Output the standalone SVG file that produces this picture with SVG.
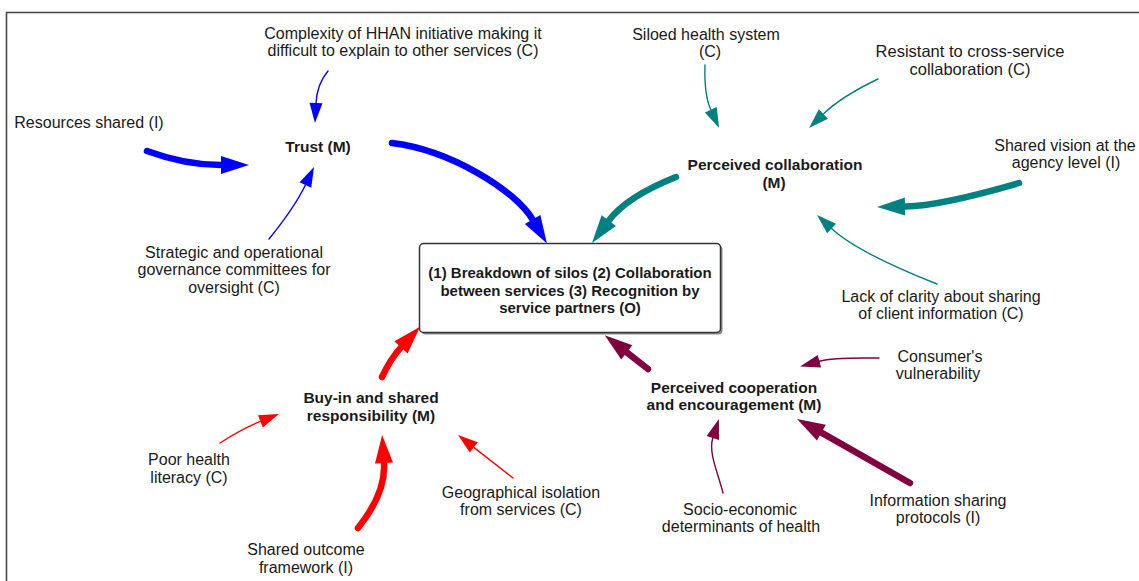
<svg xmlns="http://www.w3.org/2000/svg" width="1139" height="581" viewBox="0 0 1139 581">
<style>
text{font-family:"Liberation Sans",Arial,sans-serif;font-size:16px;fill:#1a1a1a;text-anchor:middle}
.b{font-weight:bold;font-size:15.5px}
.o{font-weight:bold;font-size:15px}
.thick{fill:none;stroke-width:6.5;stroke-linecap:round}
.thin{fill:none;stroke-width:1.4;stroke-linecap:round}
.blue{stroke:#0000ff}.teal{stroke:#008080}.red{stroke:#ff0000}.mar{stroke:#800040}
</style>
<defs>
<marker id="tkB" markerUnits="userSpaceOnUse" markerWidth="30" markerHeight="20" refX="0" refY="9" orient="auto" overflow="visible"><path d="M0,0 L28,9 L0,18 z" fill="#0000ff"/></marker>
<marker id="tnB" markerUnits="userSpaceOnUse" markerWidth="22" markerHeight="14" refX="0" refY="6.5" orient="auto" overflow="visible"><path d="M0,0 L20,6.5 L0,13 z" fill="#0000ff"/></marker>
<marker id="tkT" markerUnits="userSpaceOnUse" markerWidth="30" markerHeight="20" refX="0" refY="9" orient="auto" overflow="visible"><path d="M0,0 L28,9 L0,18 z" fill="#008080"/></marker>
<marker id="tnT" markerUnits="userSpaceOnUse" markerWidth="22" markerHeight="14" refX="0" refY="6.5" orient="auto" overflow="visible"><path d="M0,0 L20,6.5 L0,13 z" fill="#008080"/></marker>
<marker id="tkR" markerUnits="userSpaceOnUse" markerWidth="30" markerHeight="20" refX="0" refY="9" orient="auto" overflow="visible"><path d="M0,0 L28,9 L0,18 z" fill="#ff0000"/></marker>
<marker id="tnR" markerUnits="userSpaceOnUse" markerWidth="22" markerHeight="14" refX="0" refY="6.5" orient="auto" overflow="visible"><path d="M0,0 L20,6.5 L0,13 z" fill="#ff0000"/></marker>
<marker id="tkM" markerUnits="userSpaceOnUse" markerWidth="30" markerHeight="20" refX="0" refY="9" orient="auto" overflow="visible"><path d="M0,0 L28,9 L0,18 z" fill="#800040"/></marker>
<marker id="tnM" markerUnits="userSpaceOnUse" markerWidth="22" markerHeight="14" refX="0" refY="6.5" orient="auto" overflow="visible"><path d="M0,0 L20,6.5 L0,13 z" fill="#800040"/></marker>
</defs>
<rect x="0" y="0" width="1139" height="581" fill="#ffffff"/>
<rect id="frame" x="6.5" y="12.5" width="1160" height="600" fill="none" stroke="#4a4a4a" stroke-width="1.6"/>

<g id="connectors">
<path class="thick blue" d="M147,151 Q185,165 221,165" marker-end="url(#tkB)"/>
<path class="thin blue" d="M328,71 Q317,84 316,103" marker-end="url(#tnB)"/>
<path class="thin blue" d="M269,239 Q294.6,207.5 305.4,185" marker-end="url(#tnB)"/>
<path class="thick blue" d="M392,143 C450,150 515,190 532.6,219.5" marker-end="url(#tkB)"/>
<path class="thin teal" d="M705,65 Q704,95 710.8,109.8" marker-end="url(#tnT)"/>
<path class="thin teal" d="M878,79 Q841.4,96.5 823.4,114" marker-end="url(#tnT)"/>
<path class="thick teal" d="M676,177 Q626.8,196.6 608.8,220.6" marker-end="url(#tkT)"/>
<path class="thick teal" d="M1019,183 Q940,206 905,206.5" marker-end="url(#tkT)"/>
<path class="thin teal" d="M937,284 Q857,252.4 831.6,228.6" marker-end="url(#tnT)"/>
<path class="thick red" d="M382,377 Q390.8,358.4 401,347.4" marker-end="url(#tkR)"/>
<path class="thin red" d="M220,443 Q241.8,428.8 260.4,421.4" marker-end="url(#tnR)"/>
<path class="thick red" d="M358,528 Q386,493 384,463" marker-end="url(#tkR)"/>
<path class="thin red" d="M513,478 L473.8,447.4" marker-end="url(#tnR)"/>
<path class="thick mar" d="M648,369 L626.8,352.4" marker-end="url(#tkM)"/>
<path class="thin mar" d="M879,358 C860,358 835,357 819.4,361.2" marker-end="url(#tnM)"/>
<path class="thin mar" d="M723,493 C718,473 708.2,452.3 712.8,438" marker-end="url(#tnM)"/>
<path class="thick mar" d="M910,483 L821.4,432.7" marker-end="url(#tkM)"/>
</g>

<g id="n-complexity"><text x="403" y="39">Complexity of HHAN initiative making it</text><text x="403" y="56">difficult to explain to other services (C)</text></g>
<g id="n-resources"><text x="89" y="128">Resources shared (I)</text></g>
<g id="n-trust"><text class="b" x="318" y="152">Trust (M)</text></g>
<g id="n-strategic"><text x="234" y="258">Strategic and operational</text><text x="234" y="275">governance committees for</text><text x="234" y="293">oversight (C)</text></g>
<g id="n-outcome">
<rect x="421.5" y="245.5" width="301" height="89" rx="4" fill="#8a8a8a"/>
<rect x="419.5" y="243.5" width="301" height="89" rx="4" fill="#ffffff" stroke="#333333" stroke-width="1.5"/>
<text class="o" x="570" y="278">(1) Breakdown of silos (2) Collaboration</text>
<text class="o" x="570" y="296">between services (3) Recognition by</text>
<text class="o" x="570" y="313">service partners (O)</text>
</g>
<g id="n-siloed"><text x="706" y="40">Siloed health system</text><text x="710" y="57">(C)</text></g>
<g id="n-resistant"><text x="970" y="57" style="font-size:16.5px">Resistant to cross-service</text><text x="970" y="75" style="font-size:16.5px">collaboration (C)</text></g>
<g id="n-perccollab"><text class="b" x="775" y="170">Perceived collaboration</text><text class="b" x="774" y="188">(M)</text></g>
<g id="n-vision"><text x="1065" y="151">Shared vision at the</text><text x="1066" y="168">agency level (I)</text></g>
<g id="n-lack"><text x="941" y="302">Lack of clarity about sharing</text><text x="941" y="319">of client information (C)</text></g>
<g id="n-buyin"><text class="b" x="371" y="403">Buy-in and shared</text><text class="b" x="371" y="421">responsibility (M)</text></g>
<g id="n-poor"><text x="189" y="465">Poor health</text><text x="189" y="483">literacy (C)</text></g>
<g id="n-sharedoutcome"><text x="306" y="555">Shared outcome</text><text x="306" y="573">framework (I)</text></g>
<g id="n-geo"><text x="521" y="498">Geographical isolation</text><text x="521" y="515">from services (C)</text></g>
<g id="n-perccoop"><text class="b" x="734" y="393">Perceived cooperation</text><text class="b" x="734" y="410">and encouragement (M)</text></g>
<g id="n-consumer"><text x="940" y="362">Consumer's</text><text x="938" y="379">vulnerability</text></g>
<g id="n-socio"><text x="740" y="515">Socio-economic</text><text x="741" y="532">determinants of health</text></g>
<g id="n-info"><text x="938" y="506">Information sharing</text><text x="938" y="523">protocols (I)</text></g>
</svg>
